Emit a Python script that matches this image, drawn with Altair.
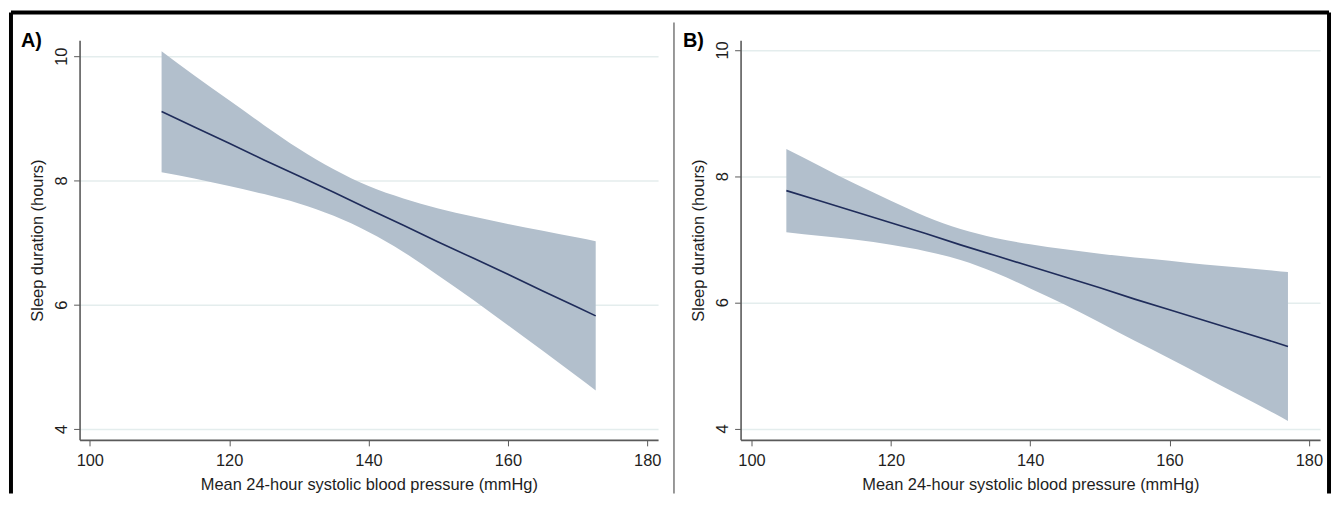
import altair as alt
import pandas as pd

# ---- data ----
a_bp = [110.3, 115, 120, 125, 130, 135, 140, 145, 150, 155, 160, 165, 170, 172.6]
a_fit = [9.11, 8.86, 8.60, 8.33, 8.07, 7.81, 7.54, 7.28, 7.01, 6.75, 6.49, 6.22, 5.96, 5.82]
a_hi = [10.08, 9.69, 9.29, 8.89, 8.51, 8.18, 7.91, 7.71, 7.55, 7.42, 7.30, 7.19, 7.08, 7.02]
a_lo = [8.13, 8.03, 7.91, 7.78, 7.63, 7.43, 7.17, 6.85, 6.47, 6.08, 5.67, 5.26, 4.84, 4.62]

b_bp = [105, 110, 115, 120, 125, 130, 135, 140, 145, 150, 155, 160, 165, 170, 175, 177]
b_fit = [7.77, 7.60, 7.43, 7.26, 7.09, 6.91, 6.74, 6.57, 6.40, 6.23, 6.05, 5.88, 5.71, 5.54, 5.37, 5.30]
b_hi = [8.43, 8.15, 7.87, 7.61, 7.36, 7.16, 7.02, 6.92, 6.84, 6.77, 6.71, 6.66, 6.60, 6.55, 6.50, 6.48]
b_lo = [7.11, 7.05, 6.99, 6.91, 6.81, 6.67, 6.47, 6.22, 5.96, 5.68, 5.39, 5.11, 4.82, 4.53, 4.24, 4.12]

x_ticks = [100, 120, 140, 160, 180]
y_ticks = [4, 6, 8, 10]
x_title = "Mean 24-hour systolic blood pressure (mmHg)"
y_title = "Sleep duration (hours)"
panel_labels = ["A)", "B)"]

# ---- styling ----
FONT = "Liberation Sans, Arial, sans-serif"
BAND = "#b2bfcc"
LINE = "#1f2c5a"
AXIS = "#5a5a5a"
GRID = "#e4eded"
TEXT = "#1e1e1e"
H = 402
W_A, W_B = 582, 583


def x_axis(w):
    return alt.Axis(values=x_ticks, format="d", grid=False, title=x_title, domainColor=AXIS,
                    domainWidth=1.6, tickColor=AXIS, tickSize=6, tickWidth=1, labelPadding=7,
                    labelFontSize=16.5, labelFont=FONT, labelColor=TEXT, titleFont=FONT,
                    titleFontSize=16.5, titleFontWeight="normal", titleColor=TEXT,
                    titleX=w / 2, titleY=50, titleAlign="center", titleBaseline="alphabetic",
                    labelFlush=False)


y_axis = alt.Axis(values=y_ticks, format="d", grid=True, gridColor=GRID, gridWidth=1.5,
                  title=y_title, domainColor=AXIS, domainWidth=1.6, tickColor=AXIS, tickSize=6,
                  tickWidth=1, labelPadding=7, labelFontSize=16.5, labelFont=FONT,
                  labelColor=TEXT, labelAngle=270, labelAlign="center",
                  labelBaseline="alphabetic", titleFont=FONT, titleFontSize=16.5,
                  titleFontWeight="normal", titleColor=TEXT, titleX=-37, titleY=H / 2,
                  titleAlign="center", titleBaseline="alphabetic", titleAngle=270,
                  labelFlush=False)


def panel(bp, fit, lo, hi, xdom, ydom, w, label, label_x, extra=()):
    df = pd.DataFrame({"bp": bp, "fit": fit, "lo": lo, "hi": hi})
    base = alt.Chart(df)
    band = base.mark_area(color=BAND, opacity=1, interpolate="monotone").encode(
        x=alt.X("bp:Q", scale=alt.Scale(domain=xdom, nice=False, zero=False), axis=x_axis(w)),
        y=alt.Y("lo:Q", scale=alt.Scale(domain=ydom, nice=False, zero=False), axis=y_axis),
        y2="hi:Q",
    )
    line = base.mark_line(color=LINE, strokeWidth=1.6).encode(x="bp:Q", y="fit:Q")
    lab_df = pd.DataFrame({"t": [label]})
    lab = alt.Chart(lab_df).mark_text(align="left", baseline="alphabetic", fontSize=20,
                                      fontWeight="bold", font=FONT, color="#000").encode(
        text="t:N", x=alt.value(label_x), y=alt.value(7))
    return alt.layer(band, line, lab, *extra).properties(width=w, height=H)


one = pd.DataFrame({"k": [0]})
BOTTOM = 456
border_top = alt.Chart(one).mark_rule(color="#000", strokeWidth=4).encode(
    x=alt.value(-69), x2=alt.value(1257), y=alt.value(-28))
border_left = alt.Chart(one).mark_rule(color="#000", strokeWidth=4).encode(
    x=alt.value(-69), y=alt.value(-28), y2=alt.value(BOTTOM))
border_right = alt.Chart(one).mark_rule(color="#000", strokeWidth=4).encode(
    x=alt.value(1257), y=alt.value(-28), y2=alt.value(BOTTOM))
divider = alt.Chart(one).mark_rule(color="#555555", strokeWidth=1.2).encode(
    x=alt.value(598), y=alt.value(-18), y2=alt.value(BOTTOM))

pa = panel(a_bp, a_fit, a_lo, a_hi, [98.53, 181.55], [3.824, 10.256], W_A, panel_labels[0], -59,
           extra=(border_top, border_left, border_right, divider))
pb = panel(b_bp, b_fit, b_lo, b_hi, [98.43, 181.61], [3.819, 10.153], W_B, panel_labels[1], -58)

chart = alt.hconcat(pa, pb, spacing=83, bounds="flush").properties(padding=0, background="white")
chart = chart.configure_view(stroke="transparent")

chart.save("out.html", embed_options={"renderer": "svg", "actions": False})
